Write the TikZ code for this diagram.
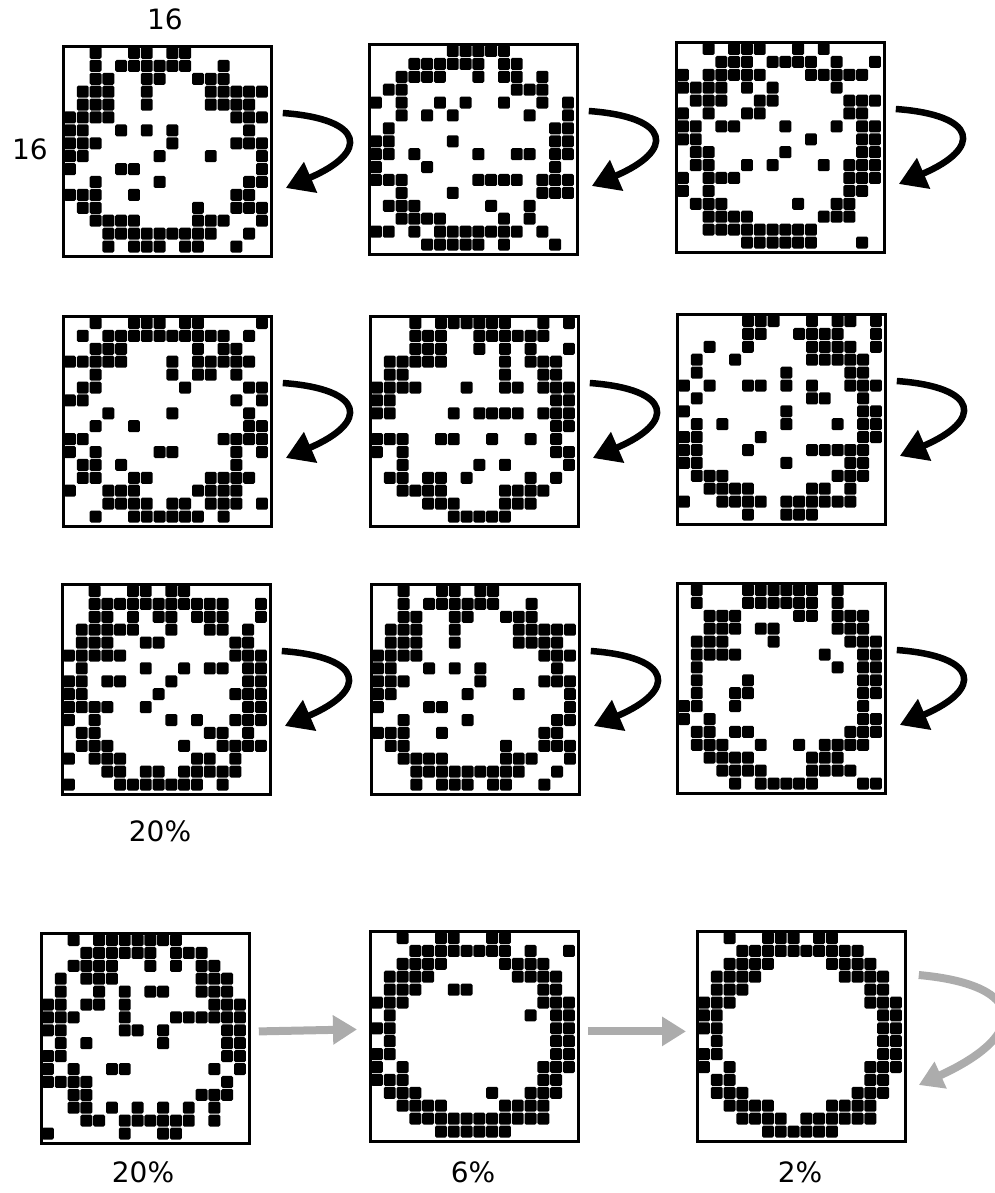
\documentclass[tikz,border=0pt]{standalone}
\usepackage{fontspec}
\setmainfont{DejaVu Sans}
\usetikzlibrary{arrows.meta,calc}
\tikzset{
  gridbox/.style={draw=black, line width=2.8pt, minimum width=208pt, minimum height=210pt, inner sep=0pt, anchor=north west},
  cellsq/.style={fill=black, rounded corners=1.5pt},
  lbl/.style={font=\fontsize{28}{32}\selectfont, inner sep=0pt},
  loopar/.style={draw=black, line width=6.5pt, -{Triangle[length=27pt,width=32pt]}},
  grayar/.style={draw=gray!65, line width=8pt, -{Triangle[length=24pt,width=28pt]}},
}
\newcommand{\drawgrid}[4]{%
  \node[gridbox] (#1) at (#2,#3) {};
  \foreach \rowlist [count=\r from 0] in {#4} {
    \foreach \c in \rowlist {
      \fill[cellsq] ({#2+2.0+12.8*\c}, {#3+2.0+12.9*\r}) rectangle ++(11.9,12.0);
    }
  }
}
\newcommand{\selfloop}[1]{%
  \coordinate (#1s) at ($(#1.north east)+(10,68)$);
  \coordinate (#1e) at ($(#1.north east)+(13,143)$);
  \draw[loopar] (#1s) .. controls ($(#1s)+(82,6)$) and ($(#1e)+(84,-36)$) .. (#1e);
}
\begin{document}
\begin{tikzpicture}[x=1pt,y=-1pt]
\useasboundingbox (0,0) rectangle (994,1193);
% row 1
\drawgrid{g1}{62}{45}{{2,5,6,8,9},{2,4,5,6,7,8,9,12},{2,3,6,7,10,11,12},{1,2,3,6,11,12,13,14,15},{1,2,3,6,11,12,13,14},{0,1,2,3,13,14,15},{0,1,4,6,8,14},{0,1,2,8,13,14,15},{0,1,7,11,15},{0,4,5,15},{2,7,14,15},{0,1,2,5,13,14},{1,2,10,13,14,15},{2,3,4,5,10,11,12,15},{3,4,5,6,7,8,9,10,11,14},{3,5,6,7,9,10,13}}
\drawgrid{g2}{368}{43}{{6,7,8,9,10},{3,4,5,6,7,8,10,11},{2,3,4,5,8,10,11,13},{1,2,11,12,13},{0,2,5,7,10,13,15},{2,4,6,12,15},{1,14,15},{0,1,6,14,15},{0,1,3,8,11,12,14,15},{0,4,14},{0,1,2,8,9,10,11,13,14,15},{2,6,13,14,15},{1,2,3,9,12},{2,3,4,5,10,12},{0,1,3,5,6,7,8,9,10,11,13},{4,5,6,7,8,10,14}}
\drawgrid{g3}{675}{41}{{2,4,5,6,9,11},{3,4,5,7,8,9,10,12,15},{0,2,3,4,5,6,10,11,12,13,14},{0,1,2,3,5,7,12},{1,2,3,6,7,13,14,15},{0,2,5,6,13,14},{0,1,3,4,8,12,14,15},{0,1,10,14,15},{1,2,8,14,15},{1,2,5,7,11,13,14,15},{0,2,3,4,13,14,15},{0,2,13,14},{1,2,3,9,12,13},{2,3,4,5,11,12,13},{2,3,4,5,6,7,8,9,10},{5,6,7,8,9,10,14}}
% row 2
\drawgrid{g4}{62}{315}{{2,5,6,7,9,10,15},{1,3,4,5,6,7,8,9,10,11,12,14},{2,3,4,10,12,13},{0,1,2,3,4,8,10,11,12,13,14},{2,8,10,11,13},{1,2,9,14,15},{0,1,13,15},{3,8,14},{2,5,14,15},{0,1,12,13,14,15},{0,2,7,8,13,15},{1,2,4,13},{1,2,5,6,11,12,13,14},{0,3,4,5,10,11,12,13},{3,4,5,6,8,9,11,12,13,15},{2,5,6,7,8,9,10,12}}
\drawgrid{g5}{369}{315}{{3,5,6,7,8,9,10,13,15},{3,4,5,8,9,10,11,12,13},{3,4,5,8,10,12,15},{1,2,3,4,5,10,12,13,14},{1,2,10,13,14},{0,1,2,3,7,10,11,13,14,15},{0,1,14,15},{0,1,6,8,9,10,11,13,14,15},{14,15},{0,1,2,5,6,9,12,14},{0,2,14,15},{2,8,10,15},{1,2,4,5,7,12,14},{2,3,4,5,10,11,12,13},{4,5,6,10,11,12},{6,7,8,9,10}}
\drawgrid{g6}{676}{313}{{5,6,7,10,12,13,15},{5,6,9,10,11,12,15},{2,5,10,11,12,13,15},{1,4,10,11,12,13,14},{1,8,13,14},{0,2,5,6,8,10,13,14,15},{1,10,11,14},{0,8,14,15},{1,3,8,12,14,15},{0,1,6,14,15},{0,1,5,10,11,12,13,14},{0,1,8,13,14},{1,2,3,12,13,14},{2,3,4,5,10,11,13},{0,3,4,5,6,8,9,10,11,12,13},{5,8,9,10}}
% row 3
\drawgrid{g7}{61}{583}{{2,5,6,8,9},{2,3,4,5,6,7,8,9,10,11,12,15},{2,3,5,7,8,10,11,12,15},{1,2,3,4,5,8,11,12,14},{1,2,3,6,7,13,14},{0,1,2,3,4,13,14,15},{1,6,9,11,12,14,15},{0,1,3,4,8,14,15},{0,1,7,13,14,15},{0,1,2,3,6,14,15},{0,2,8,10,13,14,15},{1,2,11,12,14},{1,2,3,9,12,13,14,15},{0,2,3,4,10,11,13},{3,4,6,7,9,10,11,12,13},{0,4,5,6,7,8,9,10,12}}
\drawgrid{g8}{370}{583}{{2,5,6,8,9},{2,4,5,6,7,8,9,12},{2,3,6,7,10,11,12},{1,2,3,6,11,12,13,14,15},{1,2,3,6,11,12,13,14},{0,1,2,3,13,14,15},{0,1,4,6,8,14},{0,1,2,8,13,14,15},{0,1,7,11,15},{0,4,5,15},{2,7,14,15},{0,1,2,5,13,14},{1,2,10,13,14,15},{2,3,4,5,10,11,12,15},{3,4,5,6,7,8,9,10,11,14},{3,5,6,7,9,10,13}}
\drawgrid{g9}{676}{582}{{1,5,6,7,8,9,10,12},{1,5,6,7,8,9,10,12},{2,3,4,9,10,12,13,14},{2,3,4,6,7,12,13,14},{1,2,3,7,13,14,15},{1,2,3,4,11,14,15},{1,12,14,15},{1,5,14,15},{1,4,5,14,15},{0,1,4,14},{0,2,14,15},{1,2,4,5,13,14,15},{1,2,3,6,9,11,12,13,14},{2,3,4,5,10,11,12},{3,4,5,6,10,11,12,13},{4,6,7,8,9,10,14,15}}
% row 4
\drawgrid{g10}{40}{932}{{2,4,5,6,7,8,9,10},{3,4,5,6,7,8,10,11,12},{2,3,4,5,8,10,12,13},{1,3,4,5,12,13,14},{1,4,6,8,9,12,13,14},{0,1,3,4,6,13,14,15},{0,1,2,6,10,11,12,13,14,15},{0,1,6,7,9,14,15},{1,3,9,14,15},{0,1,14,15},{0,2,5,6,13,15},{0,1,2,3,14},{2,3,12,13,14},{2,3,5,7,9,11,13},{3,4,6,7,8,9,10,11,13},{0,6,9,10}}
\drawgrid{g11}{369}{930}{{2,5,6,9,10},{3,4,5,6,7,8,9,10,12,15},{2,3,4,5,10,11,12,13},{1,2,3,4,11,12,13,14},{1,2,3,6,7,13,14},{0,1,2,13,14,15},{1,12,14,15},{0,1,14,15},{1,14,15},{0,1,14,15},{0,2,13,14,15},{0,1,2,13,14},{1,2,3,9,12,13,14},{2,3,4,5,10,11,12,13},{3,4,5,6,7,8,9,10,11,12,13},{5,6,7,8,9,10}}
\drawgrid{g12}{696}{930}{{2,5,6,7,9,10},{3,4,5,6,7,8,9,10,11,12},{2,3,4,5,10,11,12,13},{1,2,3,4,11,12,13,14},{1,2,3,13,14},{0,1,2,13,14,15},{0,1,14,15},{0,1,14,15},{1,14,15},{0,1,14,15},{0,2,13,14,15},{1,2,13,14},{1,2,3,12,13,14},{2,3,4,5,10,11,12,13},{3,4,5,6,8,9,10,11,12,13},{5,6,7,8,9,10}}
% labels
\node[lbl] (t16a) at (165,19) {16};
\node[lbl] (t16b) at (30,149) {16};
\node[lbl] (p20a) at (160,831) {20\%};
\node[lbl] (p20b) at (143,1172) {20\%};
\node[lbl] (p6) at (473,1172) {6\%};
\node[lbl] (p2) at (800,1172) {2\%};
% self loops
\selfloop{g1}\selfloop{g2}\selfloop{g3}
\selfloop{g4}\selfloop{g5}\selfloop{g6}
\selfloop{g7}\selfloop{g8}\selfloop{g9}
% gray arrows
\coordinate (a1s) at ($(g10.east)+(8,-7)$);
\coordinate (a1e) at ($(g11.west)+(-12,-7)$);
\draw[grayar] (a1s) -- (a1e);
\coordinate (a2s) at ($(g11.east)+(8,-5)$);
\coordinate (a2e) at ($(g12.west)+(-10,-5)$);
\draw[grayar] (a2s) -- (a2e);
\coordinate (a3s) at ($(g12.north east)+(12,45)$);
\coordinate (a3e) at ($(g12.north east)+(12,155)$);
\draw[grayar] (a3s) .. controls ($(a3s)+(110,10)$) and ($(a3e)+(110,-50)$) .. (a3e);
\end{tikzpicture}
\end{document}
